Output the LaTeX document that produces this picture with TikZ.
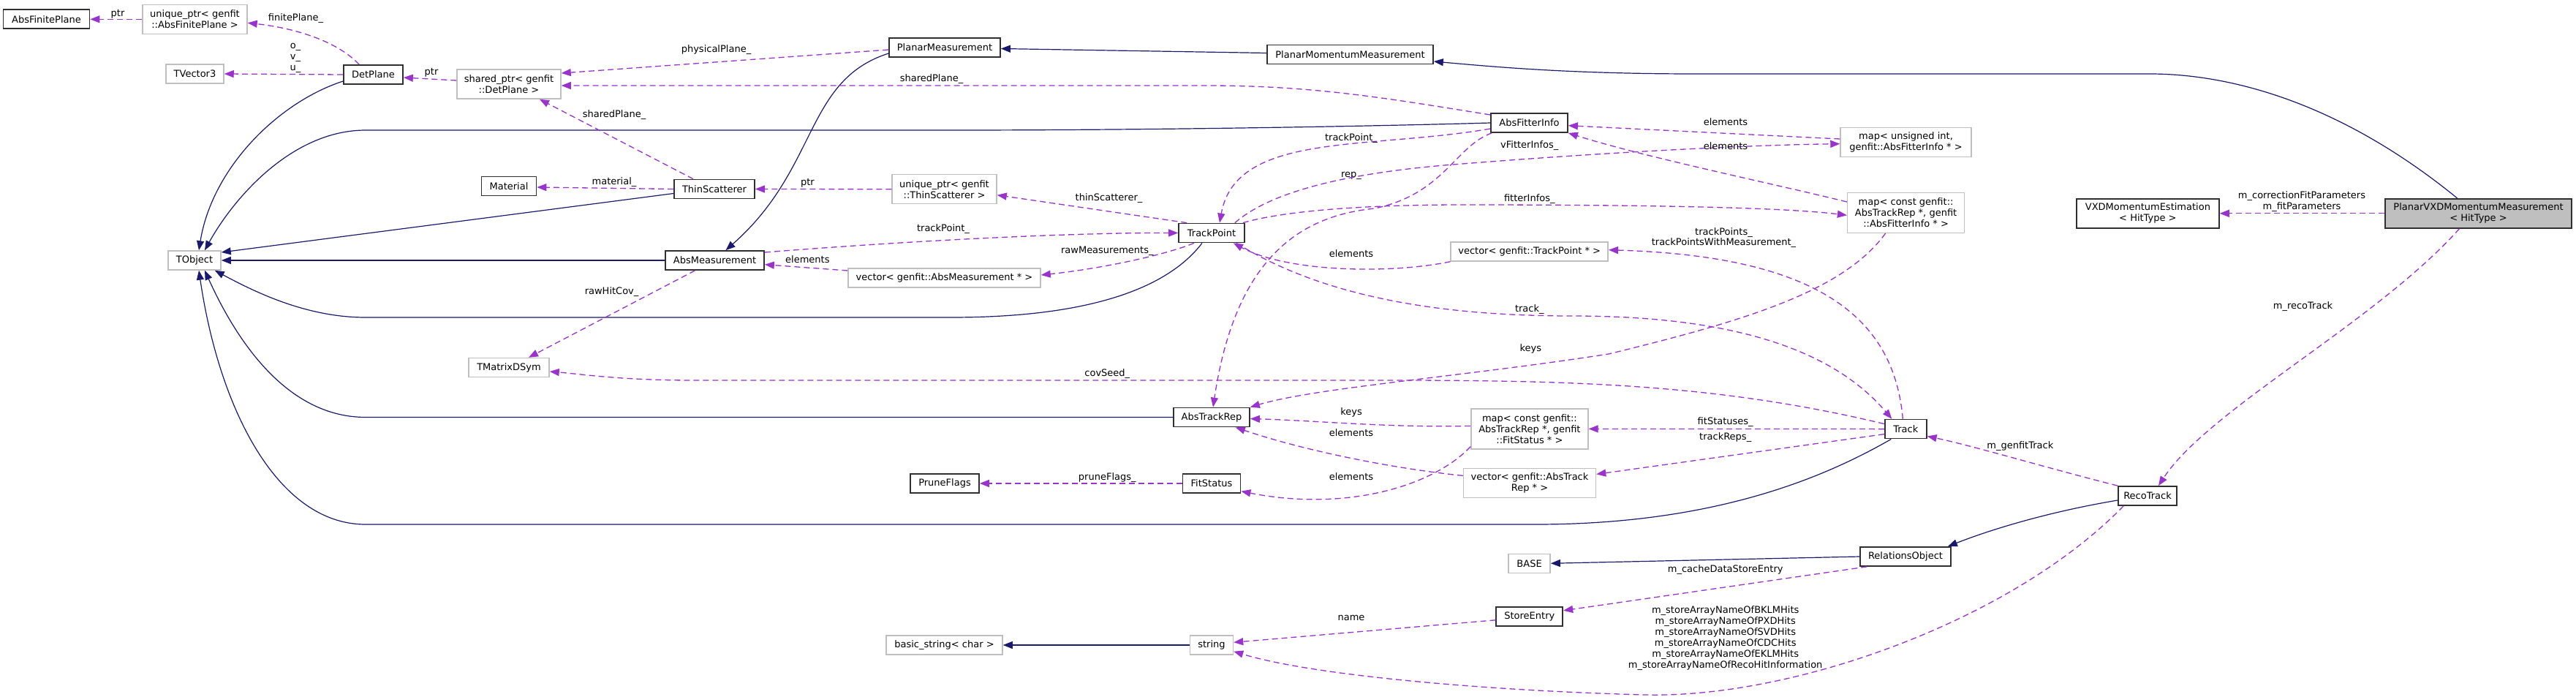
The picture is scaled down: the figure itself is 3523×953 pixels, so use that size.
\documentclass[tikz,border=0pt]{standalone}
\usepackage{fontspec}
\setmainfont{DejaVu Sans}
\usetikzlibrary{arrows.meta}
\definecolor{navy}{HTML}{191970}
\definecolor{orchid}{HTML}{9A32CD}
\definecolor{greyline}{HTML}{BFBFBF}
\definecolor{boxline}{HTML}{303030}
\newcommand{\dfs}{\fontsize{13}{15}\selectfont}
\begin{document}
\begin{tikzpicture}[x=1pt,y=-1pt,
  cls/.style={draw=boxline, line width=1.7pt, fill=white, minimum height=26pt, inner sep=0pt, font=\dfs, align=center},
  ext/.style={cls, draw=greyline, line width=1.5pt},
  mainnode/.style={cls, fill=greyline},
  lbl/.style={font=\dfs, inner sep=0pt, align=center},
  inh/.style={draw=navy, line width=1.2pt, -{Triangle[length=13pt,width=10pt]}},
  use/.style={draw=orchid, line width=1.3pt, dash pattern=on 8pt off 5pt, -{Triangle[length=13pt,width=10pt]}}
]
\useasboundingbox[fill=white] (0,0) rectangle (3523,953);

% ---------- nodes ----------
\node[cls, minimum width=118pt] (absfp) at (63.5,26.3) {AbsFinitePlane};
\node[ext, minimum width=143pt, minimum height=40pt] (uafp) at (266.5,26.3) {unique\_ptr< genfit\\::AbsFinitePlane >};
\node[ext, minimum width=79pt] (tv3) at (266.5,101) {TVector3};
\node[cls, minimum width=81pt] (detpl) at (510.5,102) {DetPlane};
\node[ext, minimum width=142pt, minimum height=40pt] (sdp) at (696,115) {shared\_ptr< genfit\\::DetPlane >};
\node[cls, minimum width=152pt] (pm) at (1292,65) {PlanarMeasurement};
\node[cls, minimum width=227pt] (pmm) at (1846.5,74.5) {PlanarMomentumMeasurement};
\node[ext, minimum width=72pt] (tobj) at (266,356) {TObject};
\node[cls, minimum width=75pt] (mat) at (696,254.5) {Material};
\node[cls, minimum width=110pt] (ts) at (977,258.5) {ThinScatterer};
\node[ext, minimum width=143pt, minimum height=40pt] (uts) at (1291.5,258.7) {unique\_ptr< genfit\\::ThinScatterer >};
\node[cls, minimum width=135pt] (am) at (977.5,356) {AbsMeasurement};
\node[ext, minimum width=263pt] (vam) at (1291.5,380) {vector< genfit::AbsMeasurement * >};
\node[cls, minimum width=90pt] (tp) at (1657,318.5) {TrackPoint};
\node[ext, minimum width=110pt] (tmd) at (696,502.5) {TMatrixDSym};
\node[cls, minimum width=104pt] (atr) at (1657,570.5) {AbsTrackRep};
\node[cls, minimum width=94pt] (pf) at (1292,661) {PruneFlags};
\node[cls, minimum width=79pt] (fs) at (1657,661) {FitStatus};
\node[ext, minimum width=159pt] (bs) at (1291.5,882) {basic\_string< char >};
\node[ext, minimum width=59pt] (str) at (1657,882) {string};
\node[cls, minimum width=105pt] (afi) at (2091.5,168) {AbsFitterInfo};
\node[ext, minimum width=179pt, minimum height=40pt] (muifi) at (2606.5,194.5) {map< unsigned int,\\ genfit::AbsFitterInfo * >};
\node[ext, minimum width=160pt, minimum height=55pt] (marfi) at (2606.6,290.8) {map< const genfit::\\AbsTrackRep *, genfit\\::AbsFitterInfo * >};
\node[ext, minimum width=215pt] (vtp) at (2091.7,344) {vector< genfit::TrackPoint * >};
\node[cls, minimum width=57pt] (track) at (2606.3,586.6) {Track};
\node[ext, minimum width=160pt, minimum height=55pt] (marfs) at (2091.9,586.4) {map< const genfit::\\AbsTrackRep *, genfit\\::FitStatus * >};
\node[ext, minimum width=181pt, minimum height=40pt] (var) at (2092,660.4) {vector< genfit::AbsTrack\\Rep * >};
\node[ext, minimum width=57pt] (base) at (2091.6,770.3) {BASE};
\node[cls, minimum width=124pt] (relo) at (2606,761) {RelationsObject};
\node[cls, minimum width=91pt] (se) at (2091.8,842.8) {StoreEntry};
\node[cls, minimum width=80pt] (rt) at (2937,678) {RecoTrack};
\node[cls, minimum width=195pt, minimum height=40pt] (vxd) at (2937.4,291.8) {VXDMomentumEstimation\\< HitType >};
\node[mainnode, minimum width=255pt, minimum height=40pt] (pvxd) at (3389.5,291.8) {PlanarVXDMomentumMeasurement\\< HitType >};

% ---------- inheritance ----------
\draw[inh] ([yshift=-9pt]detpl.west) .. controls (380,140) and (290,230) .. ([xshift=6pt]tobj.north);
\draw[inh] ([yshift=-8pt]pm.west) .. controls (1100,110) and (1120,230) .. ([xshift=15pt]am.north);
\draw[inh] ([yshift=2pt]pmm.west) -- ([yshift=-1.5pt]pm.east);
\draw[inh] ([xshift=-29pt]pvxd.north) .. controls (3200,140) and (3050,101) .. (2940,101) -- (2320,101) .. controls (2150,101) and (2050,92) .. ([yshift=-9.5pt]pmm.east);
\draw[inh] (afi.west) .. controls (1900,172) and (1600,178) .. (1300,178) -- (500,178) .. controls (400,178) and (320,270) .. ([xshift=14pt]tobj.north);
\draw[inh] ([yshift=-6pt]ts.west) -- ([yshift=11pt]tobj.east);
\draw[inh] (am.west) -- (tobj.east);
\draw[inh] ([xshift=-13pt]tp.south) .. controls (1600,390) and (1500,434) .. (1300,434) -- (500,434) .. controls (420,434) and (350,400) .. ([xshift=-9pt]tobj.south east);
\draw[inh] (atr.west) -- (500,570.5) .. controls (400,570.5) and (330,480) .. ([xshift=14pt]tobj.south);
\draw[inh] ([xshift=-20pt]track.south) .. controls (2500,650) and (2350,717) .. (2100,717) -- (500,717) .. controls (380,717) and (300,560) .. ([xshift=6pt]tobj.south);
\draw[inh] (str.west) -- (bs.east);
\draw[inh] (relo.west) -- (base.east);
\draw[inh] ([yshift=-6pt]rt.west) .. controls (2800,700) and (2720,725) .. ([xshift=-5pt]relo.north east);

% ---------- usage ----------
\draw[use] (uafp.west) -- (absfp.east);
\node[lbl] (l1) at (161,19) {ptr};
\draw[use] ([xshift=22pt]detpl.north west) .. controls (460,55) and (400,38) .. ([yshift=-5pt]uafp.east);
\node[lbl] (l2) at (404.5,25) {finitePlane\_};
\draw[use] (detpl.west) -- (tv3.east);
\node[lbl] (l3) at (404,79) {o\_\\v\_\\u\_};
\draw[use] ([yshift=5pt]sdp.west) -- ([yshift=-4pt]detpl.east);
\node[lbl] (l4) at (590,99) {ptr};
\draw[use] ([yshift=-3pt]pm.west) -- ([yshift=15pt]sdp.east);
\node[lbl] (l5) at (979.5,67.7) {physicalPlane\_};
\draw[use] ([yshift=11pt]afi.west) .. controls (1900,135) and (1800,117) .. (1650,117) -- ([yshift=-2pt]sdp.east);
\node[lbl] (l6) at (1274,108) {sharedPlane\_};
\draw[use] ([xshift=-29pt]ts.north) -- ([xshift=42pt]sdp.south);
\node[lbl] (l7) at (840,157) {sharedPlane\_};
\draw[use] (ts.west) -- ([yshift=-1.5pt]mat.east);
\node[lbl] (l8) at (840,249) {material\_};
\draw[use] (uts.west) -- (ts.east);
\node[lbl] (l9) at (1104.4,250.7) {ptr};
\draw[use] ([xshift=12pt]tp.north west) -- ([yshift=-8pt]uts.east);
\node[lbl] (l10) at (1516.5,270.7) {thinScatterer\_};
\draw[use] ([yshift=11pt]am.east) .. controls (1300,325) and (1500,318) .. (tp.west);
\node[lbl] (l11) at (1290,312.7) {trackPoint\_};
\draw[use] ([yshift=10pt]vam.west) -- ([yshift=-5.7pt]am.east);
\node[lbl] (l12) at (1104.4,354.7) {elements};
\draw[use] ([xshift=-24pt]tp.south) .. controls (1590,350) and (1500,368) .. ([yshift=4pt]vam.east);
\node[lbl] (l13) at (1514.3,343.3) {rawMeasurements\_};
\draw[use] ([xshift=-27pt]am.south) -- ([xshift=27pt]tmd.north);
\node[lbl] (l14) at (836.6,399) {rawHitCov\_};
\draw[use] ([yshift=7pt]track.west) .. controls (2350,525) and (2150,520) .. (1900,520) -- (950,520) .. controls (850,520) and (800,512) .. ([yshift=-5.5pt]tmd.east);
\node[lbl] (l15) at (1514.3,511) {covSeed\_};
\draw[use] ([yshift=4pt]marfs.west) .. controls (1900,585) and (1800,575) .. ([yshift=-2pt]atr.east);
\node[lbl] (l16) at (1848,564.3) {keys};
\draw[use] ([yshift=10pt]var.west) .. controls (1900,640) and (1780,615) .. ([xshift=-20pt]atr.south east);
\node[lbl] (l17) at (1848,591.3) {elements};
\draw[use] (fs.west) -- (pf.east);
\node[lbl] (l18) at (1514.3,652.7) {pruneFlags\_};
\draw[use] ([yshift=4pt]marfs.south west) .. controls (1960,665) and (1840,700) .. ([yshift=-10.7pt]fs.east);
\node[lbl] (l19) at (1848,651.7) {elements};
\draw[use] ([yshift=-5pt]se.west) -- ([yshift=3.7pt]str.east);
\node[lbl] (l20) at (1848,845) {name};
\draw[use] ([xshift=8pt]rt.south west) .. controls (2750,850) and (2450,955) .. (2250,950) .. controls (2050,945) and (1800,925) .. ([yshift=-8.7pt]str.east);
\node[lbl] (l21) at (2359.7,872.5) {m\_storeArrayNameOfBKLMHits\\m\_storeArrayNameOfPXDHits\\m\_storeArrayNameOfSVDHits\\m\_storeArrayNameOfCDCHits\\m\_storeArrayNameOfEKLMHits\\m\_storeArrayNameOfRecoHitInformation};
\draw[use] ([yshift=-8pt]afi.west) .. controls (1870,205) and (1690,180) .. ([xshift=11pt]tp.north);
\node[lbl] (l22) at (1848,188.7) {trackPoint\_};
\draw[use] ([xshift=2pt]afi.south west) .. controls (1990,200) and (1975,265) .. (1880,285) .. controls (1780,295) and (1690,350) .. ([xshift=2pt]atr.north);
\node[lbl] (l23) at (1848,240) {rep\_};
\draw[use] ([yshift=4.5pt]muifi.west) -- ([yshift=-3.7pt]afi.east);
\node[lbl] (l24) at (2360,166.7) {elements};
\draw[use] ([xshift=-14pt]tp.north east) .. controls (1740,260) and (1850,235) .. (2000,224) .. controls (2200,208) and (2400,198) .. ([yshift=-2.2pt]muifi.west);
\node[lbl] (l25) at (2091.8,199.3) {vFitterInfos\_};
\node[lbl] (l26) at (2360,199.3) {elements};
\draw[use] ([yshift=14.8pt]marfi.west) .. controls (2420,250) and (2250,215) .. (afi.south east);
\draw[use] ([xshift=-3pt]tp.north east) .. controls (1750,290) and (1850,280) .. (2000,280) .. controls (2300,280) and (2450,285) .. ([yshift=-3.5pt]marfi.west);
\node[lbl] (l27) at (2091.8,271.7) {fitterInfos\_};
\draw[use] ([xshift=-28pt]marfi.south) .. controls (2520,400) and (2380,440) .. (2200,484) .. controls (2000,515) and (1800,530) .. (atr.north east);
\node[lbl] (l28) at (2093.4,477.4) {keys};
\draw[use] (vtp.south west) .. controls (1900,375) and (1760,372) .. ([xshift=-16pt]tp.south east);
\node[lbl] (l29) at (1848,346.7) {elements};
\draw[use] ([xshift=-4pt]track.north) .. controls (2590,430) and (2480,350) .. ([yshift=2.3pt]vtp.east);
\node[lbl, font=\fontsize{13}{14}\selectfont] (l30) at (2357.5,325.3) {trackPoints\_\\trackPointsWithMeasurement\_};
\draw[use] ([xshift=-12pt]tp.south east) .. controls (1800,400) and (1950,432) .. (2150,432) .. controls (2350,432) and (2500,470) .. ([xshift=-19pt]track.north);
\node[lbl] (l31) at (2091.8,423) {track\_};
\draw[use] (track.west) -- (marfs.east);
\node[lbl] (l32) at (2359.7,577.5) {fitStatuses\_};
\draw[use] ([yshift=-7pt]track.west) -- ([yshift=12pt]var.east);
\node[lbl] (l33) at (2359.7,598) {trackReps\_};
\draw[use] (rt.north west) .. controls (2800,640) and (2700,610) .. ([yshift=4pt]track.south east);
\node[lbl] (l34) at (2762.8,610) {m\_genfitTrack};
\draw[use] ([xshift=10pt]relo.south west) -- ([yshift=8pt]se.east);
\node[lbl] (l35) at (2359.7,779) {m\_cacheDataStoreEntry};
\draw[use] (pvxd.west) -- (vxd.east);
\node[lbl] (l36) at (3148,275.8) {m\_correctionFitParameters\\m\_fitParameters};
\draw[use] ([xshift=-26pt]pvxd.south) .. controls (3250,440) and (3020,560) .. ([xshift=15pt]rt.north);
\node[lbl] (l37) at (3149.5,419.3) {m\_recoTrack};
\end{tikzpicture}
\end{document}
